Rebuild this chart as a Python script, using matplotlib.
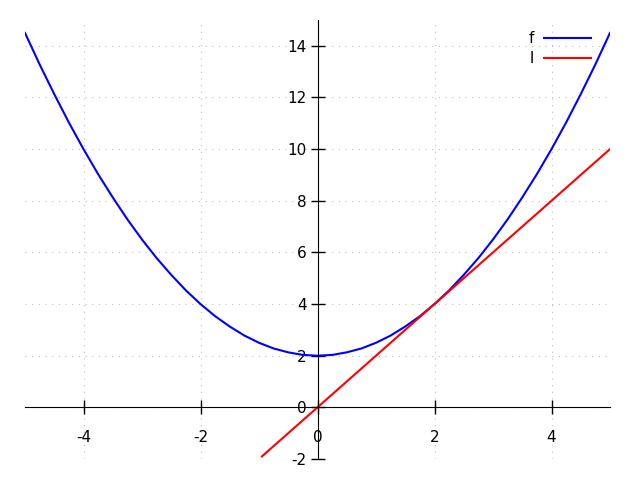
import matplotlib.pyplot as plt

# f (x, y)
f_x = [-5, -4.75, -4.5, -4.25, -4, -3.75, -3.5, -3.25, -3, -2.75, -2.5,
       -2.25, -2, -1.75, -1.5, -1.25, -1, -0.75, -0.5, -0.25, 0,
       0.25, 0.5, 0.75, 1, 1.25, 1.5, 1.75, 2, 2.25, 2.5,
       2.75, 3, 3.25, 3.5, 3.75, 4, 4.25, 4.5, 4.75, 5]
f_y = [14.5, 13.28, 12.13, 11.03, 10, 9.03, 8.13, 7.28, 6.5, 5.78, 5.13,
       4.53, 4, 3.53, 3.13, 2.78, 2.5, 2.28, 2.13, 2.03, 2,
       2.03, 2.13, 2.28, 2.5, 2.78, 3.13, 3.53, 4, 4.53, 5.13,
       5.78, 6.5, 7.28, 8.13, 9.03, 10, 11.03, 12.13, 13.28, 14.5]
# tangent line l
l_x = [-0.95, 5]
l_y = [-1.9, 10]

x_ticks = [-4, -2, 0, 2, 4]
y_ticks = [-2, 0, 2, 4, 6, 8, 10, 12, 14]

fig = plt.figure(figsize=(6.4, 4.8), dpi=100)
ax = fig.add_axes([25 / 640, 21 / 480, 585 / 640, 439 / 480])

ax.plot(f_x, f_y, color='blue', lw=1.5, label='f')
ax.plot(l_x, l_y, color='red', lw=1.5, label='l')

ax.set_xlim(-5, 5)
ax.set_ylim(-2, 15)
ax.set_xticks(x_ticks)
ax.set_yticks(y_ticks)
ax.set_xticklabels([str(v) for v in x_ticks])
ax.set_yticklabels([str(v) for v in y_ticks])

ax.spines['left'].set_position(('data', 0))
ax.spines['bottom'].set_position(('data', 0))
ax.spines['right'].set_visible(False)
ax.spines['top'].set_visible(False)
ax.tick_params(direction='inout', length=10, width=1, labelsize=11)
ax.tick_params(axis='x', pad=11)
ax.tick_params(axis='y', pad=3)

ax.grid(True, color='#c0c0c0', linestyle=(0, (1, 5)), lw=0.8)
ax.set_axisbelow(True)

ax.legend(loc='upper right', bbox_to_anchor=(0.983, 0.995), frameon=False,
          markerfirst=False, fontsize=11, handlelength=3.1, handletextpad=0.6,
          borderaxespad=0.2, labelspacing=0.3)

fig.savefig('out.png', dpi=100)
